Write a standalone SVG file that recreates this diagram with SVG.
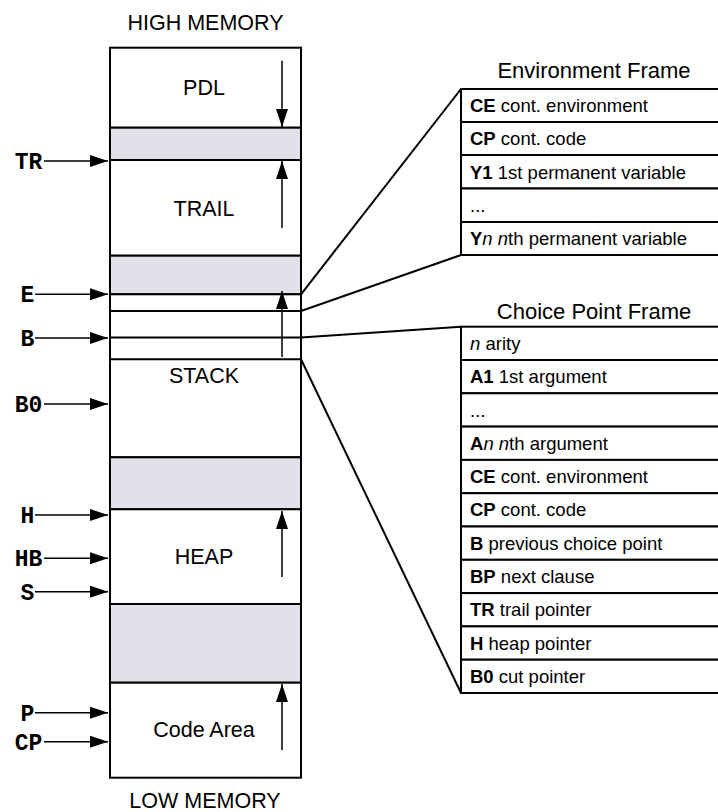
<svg xmlns="http://www.w3.org/2000/svg" width="718" height="812" viewBox="0 0 718 812">
<style>
.lbl{font-family:"Liberation Sans",Arial,sans-serif;font-size:21.5px;fill:#000;text-anchor:middle}
.title{font-family:"Liberation Sans",Arial,sans-serif;font-size:22px;fill:#000;text-anchor:middle}
.row{font-family:"Liberation Sans",Arial,sans-serif;font-size:18.5px;fill:#000}
.reg{font-family:"Liberation Mono","Courier New",monospace;font-size:23px;font-weight:bold;fill:#000;text-anchor:middle}
.box{fill:#fff;stroke:#000;stroke-width:2}
.gray{fill:#e1e1ea;stroke:#000;stroke-width:2}
.ln{stroke:#000;stroke-width:2;fill:none}
.arr{stroke:#000;stroke-width:1.5;fill:none;marker-end:url(#ah)}
.cell{fill:#fff;stroke:#000;stroke-width:2}
</style>
<defs>
<marker id="ah" viewBox="0 0 18 12" refX="18" refY="6" markerWidth="18" markerHeight="12" markerUnits="userSpaceOnUse" orient="auto">
<path d="M0,0 L18,6 L0,12 Z" fill="#000"/>
</marker>
</defs>

<text class="lbl" x="205.5" y="30">HIGH MEMORY</text>
<text class="lbl" x="205" y="808">LOW MEMORY</text>

<g id="pdl">
<rect class="box" x="110" y="47.7" width="191" height="80"/>
<text class="lbl" x="204" y="95">PDL</text>
<line class="arr" x1="282" y1="60.7" x2="282" y2="127"/>
</g>
<g id="gap1"><rect class="gray" x="110" y="127.7" width="191" height="32.3"/></g>
<g id="trail">
<rect class="box" x="110" y="160" width="191" height="95.7"/>
<text class="lbl" x="204" y="215.5">TRAIL</text>
<line class="arr" x1="282" y1="228" x2="282" y2="161"/>
</g>
<g id="gap2"><rect class="gray" x="110" y="255.7" width="191" height="38.6"/></g>
<g id="stack">
<rect class="box" x="110" y="294.3" width="191" height="163"/>
<line class="ln" x1="110" y1="311" x2="301" y2="311"/>
<line class="ln" x1="110" y1="337.5" x2="301" y2="337.5"/>
<line class="ln" x1="110" y1="359.3" x2="301" y2="359.3"/>
<text class="lbl" x="204" y="382.7">STACK</text>
<line class="arr" x1="282" y1="357" x2="282" y2="291"/>
</g>
<g id="gap3"><rect class="gray" x="110" y="457.3" width="191" height="52"/></g>
<g id="heap">
<rect class="box" x="110" y="509.3" width="191" height="94.7"/>
<text class="lbl" x="204" y="564.3">HEAP</text>
<line class="arr" x1="282" y1="577" x2="282" y2="511"/>
</g>
<g id="gap4"><rect class="gray" x="110" y="604" width="191" height="78.7"/></g>
<g id="code">
<rect class="box" x="110" y="682.7" width="191" height="95"/>
<text class="lbl" x="204" y="736.7">Code Area</text>
<line class="arr" x1="282" y1="750" x2="282" y2="684"/>
</g>

<g id="registers">
<g id="reg-TR"><text class="reg" x="28.5" y="169">TR</text><line class="arr" x1="44" y1="161" x2="108" y2="161"/></g>
<g id="reg-E"><text class="reg" x="27.5" y="302.3">E</text><line class="arr" x1="35" y1="294.3" x2="108" y2="294.3"/></g>
<g id="reg-B"><text class="reg" x="27.5" y="346">B</text><line class="arr" x1="35" y1="338" x2="108" y2="338"/></g>
<g id="reg-B0"><text class="reg" x="28.5" y="412">B0</text><line class="arr" x1="44" y1="404" x2="108" y2="404"/></g>
<g id="reg-H"><text class="reg" x="27.5" y="523">H</text><line class="arr" x1="35" y1="515" x2="108" y2="515"/></g>
<g id="reg-HB"><text class="reg" x="28.5" y="566.3">HB</text><line class="arr" x1="44" y1="558.3" x2="108" y2="558.3"/></g>
<g id="reg-S"><text class="reg" x="27.5" y="599.7">S</text><line class="arr" x1="35" y1="591.7" x2="108" y2="591.7"/></g>
<g id="reg-P"><text class="reg" x="27.5" y="720.7">P</text><line class="arr" x1="35" y1="712.7" x2="108" y2="712.7"/></g>
<g id="reg-CP"><text class="reg" x="28.5" y="749.7">CP</text><line class="arr" x1="44" y1="741.7" x2="108" y2="741.7"/></g>
</g>

<g id="connectors">
<line class="ln" x1="301" y1="294.3" x2="461" y2="89"/>
<line class="ln" x1="301" y1="311" x2="461" y2="255"/>
<line class="ln" x1="301" y1="337.5" x2="461" y2="326.7"/>
<line class="ln" x1="301" y1="359.3" x2="461" y2="693"/>
</g>

<g id="env-frame">
<text class="title" x="594" y="77.5">Environment Frame</text>
<rect class="cell" x="461" y="89" width="262" height="33"/>
<rect class="cell" x="461" y="122" width="262" height="33"/>
<rect class="cell" x="461" y="155" width="262" height="33.5"/>
<rect class="cell" x="461" y="188.5" width="262" height="33.5"/>
<rect class="cell" x="461" y="222" width="262" height="33"/>
<text class="row" x="470" y="112.3"><tspan font-weight="bold">CE</tspan> cont. environment</text>
<text class="row" x="470" y="145.3"><tspan font-weight="bold">CP</tspan> cont. code</text>
<text class="row" x="470" y="178.5"><tspan font-weight="bold">Y1</tspan> 1st permanent variable</text>
<text class="row" x="470" y="211.8">...</text>
<text class="row" x="470" y="245"><tspan font-weight="bold">Y</tspan><tspan font-style="italic">n</tspan> <tspan font-style="italic">n</tspan>th permanent variable</text>
</g>

<g id="choice-frame">
<text class="title" x="594" y="319.3">Choice Point Frame</text>
<rect class="cell" x="461" y="326.7" width="262" height="33.3"/>
<rect class="cell" x="461" y="360" width="262" height="33.3"/>
<rect class="cell" x="461" y="393.3" width="262" height="33.3"/>
<rect class="cell" x="461" y="426.6" width="262" height="33.3"/>
<rect class="cell" x="461" y="459.9" width="262" height="33.3"/>
<rect class="cell" x="461" y="493.2" width="262" height="33.3"/>
<rect class="cell" x="461" y="526.5" width="262" height="33.3"/>
<rect class="cell" x="461" y="559.8" width="262" height="33.3"/>
<rect class="cell" x="461" y="593.1" width="262" height="33.3"/>
<rect class="cell" x="461" y="626.4" width="262" height="33.3"/>
<rect class="cell" x="461" y="659.7" width="262" height="33.3"/>
<text class="row" x="470" y="349.9"><tspan font-style="italic">n</tspan> arity</text>
<text class="row" x="470" y="383.2"><tspan font-weight="bold">A1</tspan> 1st argument</text>
<text class="row" x="470" y="416.5">...</text>
<text class="row" x="470" y="449.8"><tspan font-weight="bold">A</tspan><tspan font-style="italic">n</tspan> <tspan font-style="italic">n</tspan>th argument</text>
<text class="row" x="470" y="483.1"><tspan font-weight="bold">CE</tspan> cont. environment</text>
<text class="row" x="470" y="516.4"><tspan font-weight="bold">CP</tspan> cont. code</text>
<text class="row" x="470" y="549.7"><tspan font-weight="bold">B</tspan> previous choice point</text>
<text class="row" x="470" y="583"><tspan font-weight="bold">BP</tspan> next clause</text>
<text class="row" x="470" y="616.3"><tspan font-weight="bold">TR</tspan> trail pointer</text>
<text class="row" x="470" y="649.6"><tspan font-weight="bold">H</tspan> heap pointer</text>
<text class="row" x="470" y="682.9"><tspan font-weight="bold">B0</tspan> cut pointer</text>
</g>
</svg>
